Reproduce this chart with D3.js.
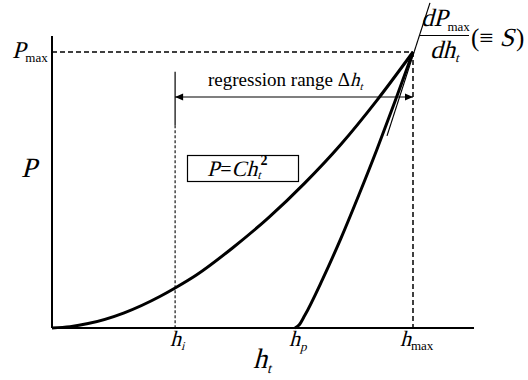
<!DOCTYPE html>
<html>
<head>
<meta charset="utf-8">
<script src="https://cdn.jsdelivr.net/npm/d3@7"></script>
<style>
  html, body { margin: 0; padding: 0; background: #fff; }
  svg { display: block; }
  text { font-family: "Liberation Serif", "Times New Roman", serif; fill: #000; }
</style>
</head>
<body>
<svg id="chart" width="528" height="380"></svg>
<script>
// ---- data (normalised: h_max = 1, P_max = 1) ----
const hMax = 1.0;
const pMax = 1.0;
const hI = 0.341;
const hP = 0.673;
const hAxisEnd = 1.169;
const pAxisEnd = 1.058;

// loading curve  P = C h_t^2
const loadH = [0, 0.05, 0.1, 0.2, 0.3, 0.341, 0.4, 0.5, 0.6, 0.7, 0.8, 0.9, 1.0];
const loadP = [0, 0.005, 0.016, 0.055, 0.115, 0.145, 0.192, 0.29, 0.40, 0.525, 0.665, 0.825, 1.0];

// unloading curve
const unloadH = [0.673, 0.685, 0.70, 0.75, 0.80, 0.85, 0.90, 0.95, 1.0];
const unloadP = [0, 0.012, 0.045, 0.178, 0.324, 0.482, 0.647, 0.821, 1.0];

// tangent at h_max (dP/dh = S)
const tanH = [0.928, 1.047];
const tanP = [0.696, 1.178];

// ---- scales ----
const svg = d3.select("#chart");
const x = d3.scaleLinear().domain([0, hMax]).range([52, 413]);
const y = d3.scaleLinear().domain([0, pMax]).range([328, 52]);

const line = d3.line().x(d => x(d[0])).y(d => y(d[1]));
const curve = d3.line().x(d => x(d[0])).y(d => y(d[1])).curve(d3.curveMonotoneX);

// rich text helper: segments drawn one after another; italic faked by skew
function rich(x0, y0, segs) {
  let cx = x0;
  segs.forEach(s => {
    const by = y0 + (s.dy || 0);
    const t = svg.append("text")
      .attr("font-size", s.size)
      .attr("font-weight", s.bold ? "bold" : "normal")
      .text(s.t);
    if (s.it) {
      t.attr("transform", `translate(${cx},${by}) skewX(-15)`);
    } else {
      t.attr("x", cx).attr("y", by);
    }
    cx += t.node().getComputedTextLength() + (s.gap || 0);
  });
  return cx;
}

// axes
const axisX = d3.axisBottom(x).tickValues([]).tickSizeOuter(0);
const axisY = d3.axisLeft(y).tickValues([]).tickSizeOuter(0);
svg.append("g").attr("transform", `translate(0,${y(0)})`).call(axisX)
  .call(g => g.select(".domain").attr("d", `M${x(0)},0H${x(hAxisEnd)}`).attr("stroke-width", 2));
svg.append("g").attr("transform", `translate(${x(0)},0)`).call(axisY)
  .call(g => g.select(".domain").attr("d", `M0,${y(0)}V${y(pAxisEnd)}`).attr("stroke-width", 2));

// dashed guides
svg.append("path").attr("d", line([[0, pMax], [hMax, pMax]]))
  .attr("stroke", "#000").attr("stroke-width", 1.5).attr("stroke-dasharray", "5,3").attr("fill", "none");
svg.append("path").attr("d", line([[hMax, pMax], [hMax, 0]]))
  .attr("stroke", "#000").attr("stroke-width", 1.5).attr("stroke-dasharray", "5,3").attr("fill", "none");

// h_i marker: solid top, dotted lower
const hiTop = 0.928, hiMid = 0.735;
svg.append("path").attr("d", line([[hI, hiTop], [hI, hiMid]]))
  .attr("stroke", "#000").attr("stroke-width", 1.2).attr("fill", "none");
svg.append("path").attr("d", line([[hI, hiMid], [hI, 0]]))
  .attr("stroke", "#000").attr("stroke-width", 1.1).attr("stroke-dasharray", "3,2").attr("fill", "none");

// regression range arrow
const arrowP = 0.837;
svg.append("path").attr("d", line([[hI, arrowP], [hMax, arrowP]]))
  .attr("stroke", "#000").attr("stroke-width", 1.2).attr("fill", "none");
const ay = y(arrowP);
svg.append("path").attr("d", `M${x(hI)},${ay}l8,-3.5v7z`).attr("fill", "#000");
svg.append("path").attr("d", `M${x(hMax)},${ay}l-8,-3.5v7z`).attr("fill", "#000");

// curves
svg.append("path").attr("d", curve(loadH.map((h, i) => [h, loadP[i]])))
  .attr("stroke", "#000").attr("stroke-width", 3).attr("fill", "none");
svg.append("path").attr("d", curve(unloadH.map((h, i) => [h, unloadP[i]])))
  .attr("stroke", "#000").attr("stroke-width", 3).attr("fill", "none");
svg.append("path").attr("d", line(tanH.map((h, i) => [h, tanP[i]])))
  .attr("stroke", "#000").attr("stroke-width", 1.2).attr("fill", "none");

// formula box
svg.append("rect").attr("x", 187.5).attr("y", 155.5).attr("width", 111).attr("height", 26)
  .attr("fill", "#fff").attr("stroke", "#000").attr("stroke-width", 1.2);
rich(207, 176, [
  {t: "P", size: 22, it: true, gap: 1},
  {t: "=", size: 20},
  {t: "Ch", size: 22, it: true},
  {t: "t", size: 12, it: true, dy: 3},
  {t: "2", size: 14, bold: true, dy: -11}
]);

// regression label
rich(208, 86, [
  {t: "regression range Δ", size: 19},
  {t: "h", size: 19, it: true},
  {t: "t", size: 11, it: true, dy: 4}
]);

// y labels
rich(12, 58, [
  {t: "P", size: 24, it: true},
  {t: "max", size: 13, dy: 4}
]);
rich(21, 177, [{t: "P", size: 28, it: true}]);

// x labels
rich(170, 346, [{t: "h", size: 22, it: true}, {t: "i", size: 12, it: true, dy: 4}]);
rich(253, 368, [{t: "h", size: 28, it: true}, {t: "t", size: 14, it: true, dy: 5}]);
rich(289, 346, [{t: "h", size: 22, it: true}, {t: "p", size: 13, it: true, dy: 5}]);
rich(400, 346, [{t: "h", size: 22, it: true}, {t: "max", size: 13, dy: 4}]);

// slope label dP_max / dh_t (≡ S)
rich(421, 26, [
  {t: "dP", size: 25, it: true},
  {t: "max", size: 13, dy: 5}
]);
svg.append("line").attr("x1", 420).attr("x2", 469).attr("y1", 35.5).attr("y2", 35.5)
  .attr("stroke", "#000").attr("stroke-width", 1.2);
rich(430, 58, [
  {t: "dh", size: 25, it: true},
  {t: "t", size: 13, it: true, dy: 4}
]);
rich(471, 46, [
  {t: "(≡", size: 25, gap: 6},
  {t: "S", size: 26, it: true, gap: 2},
  {t: ")", size: 25}
]);
</script>
</body>
</html>
